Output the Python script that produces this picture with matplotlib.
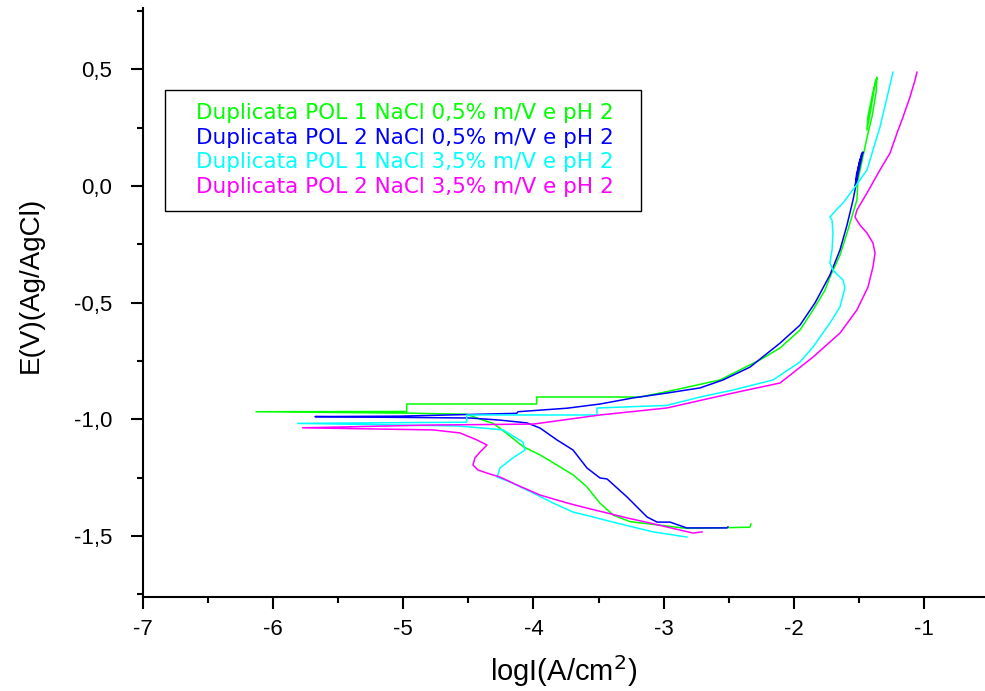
import matplotlib as mpl
mpl.use('Agg')
import matplotlib.pyplot as plt
from matplotlib.ticker import MultipleLocator, FuncFormatter
from matplotlib.patches import Rectangle

plt.rcParams['axes.unicode_minus'] = False
plt.rcParams['font.family'] = ['Liberation Sans', 'DejaVu Sans']

legendas = ['Duplicata POL 1 NaCl 0,5% m/V e pH 2',
            'Duplicata POL 2 NaCl 0,5% m/V e pH 2',
            'Duplicata POL 1 NaCl 3,5% m/V e pH 2',
            'Duplicata POL 2 NaCl 3,5% m/V e pH 2']
cores = ['#00ff00', '#0000ff', '#00ffff', '#ff00ff']

# curva 1 - POL 1 NaCl 0,5%
logi_1 = [-2.33, -2.338, -2.823, -3.259, -3.387, -3.489, -3.591, -3.694, -3.821,
          -3.949, -4.078, -4.205, -4.308, -4.387, -4.512, -4.972, -6.129, -4.972,
          -4.972, -3.975, -3.975, -3.182, -2.975, -2.568, -2.261, -2.107, -1.954,
          -1.854, -1.762, -1.724, -1.647, -1.593, -1.517, -1.509, -1.432, -1.40,
          -1.37, -1.363, -1.395, -1.432, -1.44, -1.41, -1.375, -1.365]
e_1 = [-1.448, -1.462, -1.467, -1.438, -1.410, -1.359, -1.288, -1.238, -1.195,
       -1.152, -1.117, -1.060, -1.017, -1.003, -0.978, -0.973, -0.967, -0.966,
       -0.934, -0.934, -0.904, -0.904, -0.881, -0.831, -0.745, -0.694, -0.617,
       -0.531, -0.446, -0.390, -0.296, -0.201, -0.060, 0.026, 0.227, 0.30,
       0.40, 0.467, 0.40, 0.30, 0.24, 0.33, 0.45, 0.46]

# curva 2 - POL 2 NaCl 0,5%
logi_2 = [-2.507, -2.514, -2.823, -2.952, -3.051, -3.128, -3.282, -3.435, -3.489,
          -3.589, -3.696, -3.819, -3.949, -4.049, -4.256, -4.487, -5.676, -5.024,
          -4.128, -4.118, -3.742, -3.489, -3.236, -2.975, -2.721, -2.545, -2.338,
          -2.107, -1.954, -1.839, -1.724, -1.647, -1.593, -1.547, -1.509, -1.471,
          -1.50, -1.53, -1.52, -1.48]
e_2 = [-1.461, -1.465, -1.465, -1.440, -1.440, -1.418, -1.332, -1.255, -1.251,
       -1.208, -1.131, -1.088, -1.037, -1.015, -1.003, -0.994, -0.988, -0.986,
       -0.974, -0.967, -0.952, -0.934, -0.908, -0.887, -0.865, -0.831, -0.776,
       -0.673, -0.596, -0.501, -0.381, -0.274, -0.167, -0.060, 0.047, 0.146,
       0.10, 0.0, 0.05, 0.14]

# curva 3 - POL 1 NaCl 3,5%
logi_3 = [-2.821, -3.082, -3.236, -3.389, -3.543, -3.696, -3.850, -4.003, -4.180,
          -4.279, -4.256, -4.157, -4.064, -4.080, -4.233, -4.387, -4.586, -5.809,
          -4.512, -4.512, -3.512, -3.512, -2.975, -2.721, -2.468, -2.161, -1.954,
          -1.854, -1.724, -1.647, -1.609, -1.624, -1.701, -1.724, -1.708, -1.701,
          -1.708, -1.724, -1.662, -1.624, -1.532, -1.440, -1.340, -1.240]
e_3 = [-1.504, -1.482, -1.461, -1.440, -1.418, -1.397, -1.358, -1.315, -1.268,
       -1.247, -1.208, -1.165, -1.131, -1.097, -1.045, -1.037, -1.028, -1.017,
       -1.012, -0.981, -0.981, -0.951, -0.940, -0.904, -0.874, -0.831, -0.754,
       -0.690, -0.587, -0.518, -0.437, -0.403, -0.360, -0.330, -0.274, -0.201,
       -0.146, -0.133, -0.094, -0.073, -0.004, 0.069, 0.253, 0.488]

# curva 4 - POL 2 NaCl 3,5%
logi_4 = [-2.706, -2.775, -2.975, -3.105, -3.282, -3.435, -3.589, -3.742, -3.949,
          -4.126, -4.256, -4.356, -4.425, -4.464, -4.448, -4.410, -4.356, -4.433,
          -4.563, -4.771, -5.771, -4.771, -4.0, -3.489, -2.975, -2.468, -2.107,
          -1.854, -1.647, -1.517, -1.432, -1.394, -1.378, -1.394, -1.440, -1.494,
          -1.532, -1.517, -1.440, -1.340, -1.263, -1.209, -1.163, -1.110, -1.071,
          -1.056]
e_4 = [-1.482, -1.487, -1.461, -1.444, -1.422, -1.401, -1.380, -1.358, -1.324,
       -1.281, -1.247, -1.230, -1.217, -1.195, -1.165, -1.140, -1.110, -1.088,
       -1.058, -1.045, -1.036, -1.024, -1.020, -0.981, -0.951, -0.887, -0.844,
       -0.733, -0.630, -0.531, -0.433, -0.347, -0.287, -0.244, -0.201, -0.167,
       -0.133, -0.103, -0.030, 0.069, 0.141, 0.227, 0.296, 0.381, 0.454,
       0.488]

fig = plt.figure(figsize=(9.85, 6.91), dpi=100)
ax = fig.add_axes([142.5 / 985, 1 - 597 / 691, 1 - 142.5 / 985, 589 / 691])

for x, y, c in zip([logi_1, logi_2, logi_3, logi_4], [e_1, e_2, e_3, e_4], cores):
    ax.plot(x, y, color=c, lw=1.1)

ax.set_xlim(-7, -0.534)
ax.set_ylim(-1.761, 0.763)

for s in ['top', 'right']:
    ax.spines[s].set_visible(False)
for s in ['left', 'bottom']:
    ax.spines[s].set_linewidth(1.5)

ax.xaxis.set_major_locator(MultipleLocator(1))
ax.xaxis.set_minor_locator(MultipleLocator(0.5))
ax.yaxis.set_major_locator(MultipleLocator(0.5))
ax.yaxis.set_minor_locator(MultipleLocator(0.25))
ax.yaxis.set_major_formatter(FuncFormatter(lambda v, p: ('%.1f' % v).replace('.', ',')))
ax.xaxis.set_major_formatter(FuncFormatter(lambda v, p: '%d' % round(v)))
ax.tick_params(which='major', direction='out', length=8.5, width=1.5, labelsize=16)
ax.tick_params(which='minor', direction='out', length=4.5, width=1.5)
ax.tick_params(axis='y', pad=13.5)
ax.tick_params(axis='x', pad=7)

ax.set_xlabel('logI(A/cm$^2$)', fontsize=21, labelpad=10)
ax.set_ylabel('E(V)(Ag/AgCl)', fontsize=20)
ax.yaxis.set_label_coords(-0.117, 0.53)

# legenda: caixa com textos coloridos
fig.patches.append(Rectangle((165 / 985, 1 - 211 / 691), 476 / 985, 121 / 691,
                             transform=fig.transFigure, fill=False,
                             edgecolor='black', lw=1))
for i, (t, c) in enumerate(zip(legendas, cores)):
    fig.text(196 / 985, 1 - (113 + 24.7 * i) / 691, t, color=c, fontsize=15.5,
             family='DejaVu Sans', va='center', ha='left')

fig.savefig('out.png', dpi=100)
